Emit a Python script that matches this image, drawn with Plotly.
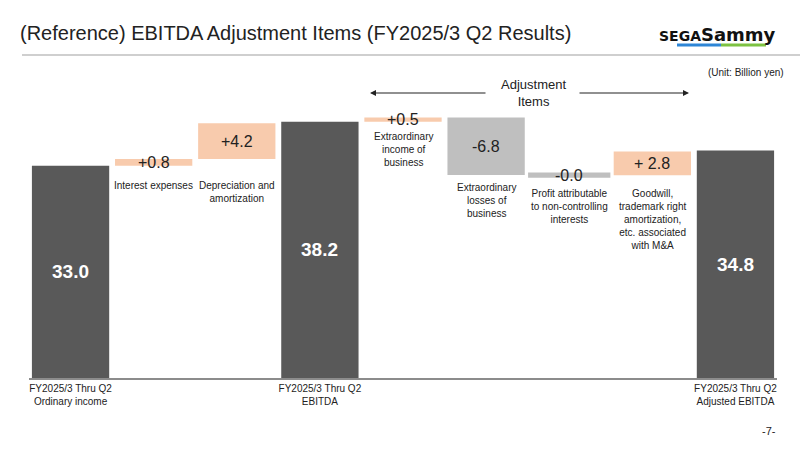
import plotly.graph_objects as go

# ---------------- data ----------------
categories = [
    "Ordinary income", "Interest expenses", "Depreciation and amortization", "EBITDA",
    "Extraordinary income of business", "Extraordinary losses of business",
    "Profit attributable to non-controlling interests",
    "Goodwill, trademark right amortization, etc. associated with M&A", "Adjusted EBITDA",
]
kinds = ["total", "inc", "inc", "total", "inc", "dec", "dec", "inc", "total"]
values = [33.0, 0.8, 4.2, 38.2, 0.5, -6.8, -0.04, 2.8, 34.8]
value_labels = ["33.0", "+0.8", "+4.2", "38.2", "+0.5", "-6.8", "-0.0", "+ 2.8", "34.8"]
tick_labels = [
    "FY2025/3 Thru Q2<br>Ordinary income", "", "", "FY2025/3 Thru Q2<br>EBITDA",
    "", "", "", "", "FY2025/3 Thru Q2<br>Adjusted EBITDA",
]
desc_labels = [
    "", "Interest expenses", "Depreciation and<br>amortization", "",
    "Extraordinary<br>income of<br>business", "Extraordinary<br>losses of<br>business",
    "Profit attributable<br>to non-controlling<br>interests",
    "Goodwill,<br>trademark right<br>amortization,<br>etc. associated<br>with M&A", "",
]

# ---------------- layout constants ----------------
W, H = 800, 450
ML, MR, MT, MB = 29, 23, 100, 72
Y_MIN, Y_MAX = 7.9, 40.76
FONT = "Liberation Sans, Arial, sans-serif"
TXT = "#222222"
COLORS = {"total": "#595959", "inc": "#F8CBAD", "dec": "#BFBFBF"}

def px(p):
    return (p - ML) / (W - ML - MR)

def py(p):
    return (H - MB - p) / (H - MT - MB)

# running waterfall bases
bases, heights = [], []
level = 0.0
for k, v in zip(kinds, values):
    if k == "total":
        bases.append(0.0)
        heights.append(v)
        level = v
    else:
        bases.append(level)
        heights.append(v)
        level += v

bar_colors = [COLORS[k] for k in kinds]
line_widths = [5 if abs(v) < 0.1 else 0 for v in values]

fig = go.Figure(go.Bar(
    x=categories, y=heights, base=bases,
    marker=dict(color=bar_colors, line=dict(color=bar_colors, width=line_widths)),
    hoverinfo="skip", showlegend=False,
))

annotations = []
# value labels
for c, k, v, b, lab in zip(categories, kinds, values, bases, value_labels):
    if k == "total":
        yc = (Y_MIN + v) / 2
        annotations.append(dict(x=c, y=yc, xref="x", yref="y", text="<b>%s</b>" % lab,
                                showarrow=False, xanchor="center", yanchor="middle",
                                font=dict(size=19, color="white", family=FONT)))
    else:
        yc = b + v / 2
        annotations.append(dict(x=c, y=yc, xref="x", yref="y", text=lab,
                                showarrow=False, xanchor="center", yanchor="middle",
                                font=dict(size=16, color=TXT, family=FONT)))

# description labels (top of first line, in pixels)
desc_top = [None, 178, 178, None, 129, 180, 186, 186, None]
for c, d, t in zip(categories, desc_labels, desc_top):
    if d:
        annotations.append(dict(x=c, y=py(t), xref="x", yref="paper", text=d, showarrow=False,
                                yanchor="top", xanchor="center", align="center",
                                font=dict(size=10, color=TXT, family=FONT)))

# adjustment items header with arrows
annotations.append(dict(x=px(533), y=py(93), xref="paper", yref="paper", text="Adjustment<br>Items",
                        showarrow=False, xanchor="center", yanchor="middle",
                        font=dict(size=13, color=TXT, family=FONT)))
annotations.append(dict(x=px(370), y=py(93), xref="paper", yref="paper", text="",
                        showarrow=True, ax=117, ay=0, arrowhead=2, arrowsize=1,
                        arrowwidth=1.2, arrowcolor=TXT, standoff=0))
annotations.append(dict(x=px(689), y=py(93), xref="paper", yref="paper", text="",
                        showarrow=True, ax=-111, ay=0, arrowhead=2, arrowsize=1,
                        arrowwidth=1.2, arrowcolor=TXT, standoff=0))
# unit
annotations.append(dict(x=px(786), y=py(73), xref="paper", yref="paper", text="(Unit: Billion yen)",
                        showarrow=False, xanchor="right", yanchor="middle",
                        font=dict(size=10, color=TXT, family=FONT)))
# page number
annotations.append(dict(x=px(778), y=py(431), xref="paper", yref="paper", text="-7-",
                        showarrow=False, xanchor="right", yanchor="middle",
                        font=dict(size=11, color=TXT, family=FONT)))
# logo text
annotations.append(dict(x=px(778), y=py(35), xref="paper", yref="paper",
                        text="<b><span style='font-size:14px'>SEGA</span>Sammy</b>",
                        showarrow=False, xanchor="right", yanchor="middle",
                        font=dict(size=18, color="#111111", family="DejaVu Sans, sans-serif")))

shapes = [
    dict(type="line", xref="paper", yref="paper", x0=px(22), x1=px(800), y0=py(55), y1=py(55),
         line=dict(color="#BFBFBF", width=1.5)),
    dict(type="line", xref="paper", yref="paper", x0=px(677), x1=px(721), y0=py(45), y1=py(45),
         line=dict(color="#2E86D6", width=3)),
    dict(type="line", xref="paper", yref="paper", x0=px(721), x1=px(766), y0=py(45), y1=py(45),
         line=dict(color="#7DC242", width=3)),
]

fig.update_layout(
    width=W, height=H,
    margin=dict(l=ML, r=MR, t=MT, b=MB),
    paper_bgcolor="white", plot_bgcolor="white",
    bargap=0.07,
    font=dict(family=FONT, color=TXT),
    title=dict(text="(Reference) EBITDA Adjustment Items (FY2025/3 Q2 Results)",
               x=20 / W, xref="container", xanchor="left",
               y=1 - 33 / H, yref="container", yanchor="middle",
               font=dict(size=20, color=TXT, family=FONT)),
    xaxis=dict(type="category", categoryorder="array", categoryarray=categories,
               tickvals=categories, ticktext=tick_labels, showline=True,
               linecolor="#8C8C8C", linewidth=1.5, ticks="", showgrid=False, zeroline=False,
               tickfont=dict(size=10, color=TXT, family=FONT), fixedrange=True),
    yaxis=dict(range=[Y_MIN, Y_MAX], visible=False, showgrid=False, zeroline=False, fixedrange=True),
    annotations=annotations,
    shapes=shapes,
)

fig.write_html("out.html")
